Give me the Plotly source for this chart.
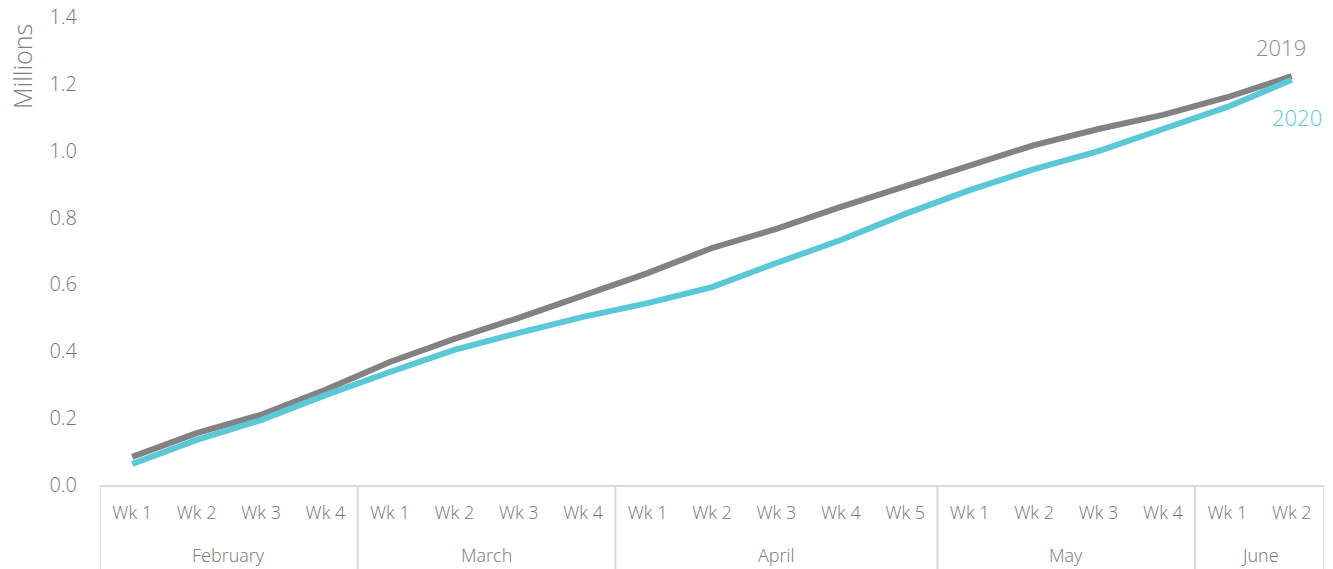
import plotly.graph_objects as go

months = ["February"] * 4 + ["March"] * 4 + ["April"] * 5 + ["May"] * 4 + ["June"] * 2
weeks = ["Wk 1", "Wk 2", "Wk 3", "Wk 4",
         "Wk 1", "Wk 2", "Wk 3", "Wk 4",
         "Wk 1", "Wk 2", "Wk 3", "Wk 4", "Wk 5",
         "Wk 1", "Wk 2", "Wk 3", "Wk 4",
         "Wk 1", "Wk 2"]
v2019 = [0.084, 0.155, 0.21, 0.285, 0.368, 0.437, 0.50, 0.568, 0.634, 0.709,
         0.766, 0.832, 0.894, 0.957, 1.017, 1.065, 1.107, 1.16, 1.223]
v2020 = [0.063, 0.135, 0.194, 0.269, 0.338, 0.404, 0.455, 0.503, 0.544, 0.592,
         0.664, 0.733, 0.811, 0.882, 0.945, 0.999, 1.065, 1.131, 1.212]

GRAY = "#828282"
CYAN = "#5bc8d8"
TXT = "#767676"
DIV = "#d9d9d9"
FONT = "Open Sans"

idx = list(range(len(weeks)))

fig = go.Figure()
fig.add_trace(go.Scatter(x=idx, y=v2019, mode="lines", name="2019",
                         line=dict(color=GRAY, width=6)))
fig.add_trace(go.Scatter(x=idx, y=v2020, mode="lines", name="2020",
                         line=dict(color=CYAN, width=6)))

# month groups: labels and dividers
groups = []
start = 0
for i in range(1, len(months) + 1):
    if i == len(months) or months[i] != months[start]:
        groups.append((months[start], start, i - 1))
        start = i

boundaries = [g[1] - 0.5 for g in groups] + [groups[-1][2] + 0.5]
for b in boundaries:
    fig.add_shape(type="line", xref="x", yref="paper", x0=b, x1=b, y0=0, y1=-0.2,
                  line=dict(color=DIV, width=2), layer="above")
for name, s, e in groups:
    fig.add_annotation(text=name, xref="x", x=(s + e) / 2, yref="paper", y=-0.1496,
                       yanchor="middle", showarrow=False,
                       font=dict(family=FONT, size=18, color=TXT, weight=300))

fig.add_annotation(text="2019", xref="x", x=17.83, yref="y", y=1.31,
                   showarrow=False, font=dict(family=FONT, size=22, color="#8c8c8c", weight=300))
fig.add_annotation(text="2020", xref="x", x=18.08, yref="y", y=1.10,
                   showarrow=False, font=dict(family=FONT, size=22, color=CYAN, weight=300))
fig.add_annotation(text="Millions", xref="paper", x=-0.0637, yref="paper", y=0.893,
                   textangle=-90, showarrow=False, xanchor="center", yanchor="middle",
                   font=dict(family=FONT, size=25, color="#7f7f7f", weight=300))

fig.update_layout(
    width=1333, height=569,
    margin=dict(l=100, r=9, t=17, b=84, autoexpand=False),
    paper_bgcolor="white", plot_bgcolor="white",
    showlegend=False,
    font=dict(family=FONT, color=TXT, weight=300),
    xaxis=dict(range=[-0.5, len(weeks) - 0.5], tickvals=idx, ticktext=weeks,
               showgrid=False, zeroline=False, showline=True,
               linecolor=DIV, linewidth=2, ticks="", ticklabelstandoff=10,
               tickfont=dict(family=FONT, size=18, color=TXT, weight=300)),
    yaxis=dict(range=[0, 1.4], dtick=0.2, tickformat=".1f", showgrid=False,
               zeroline=False, showline=False, ticks="", ticklabelstandoff=22,
               tickfont=dict(family=FONT, size=20, color=TXT, weight=300)),
)

fig.write_html("out.html")
